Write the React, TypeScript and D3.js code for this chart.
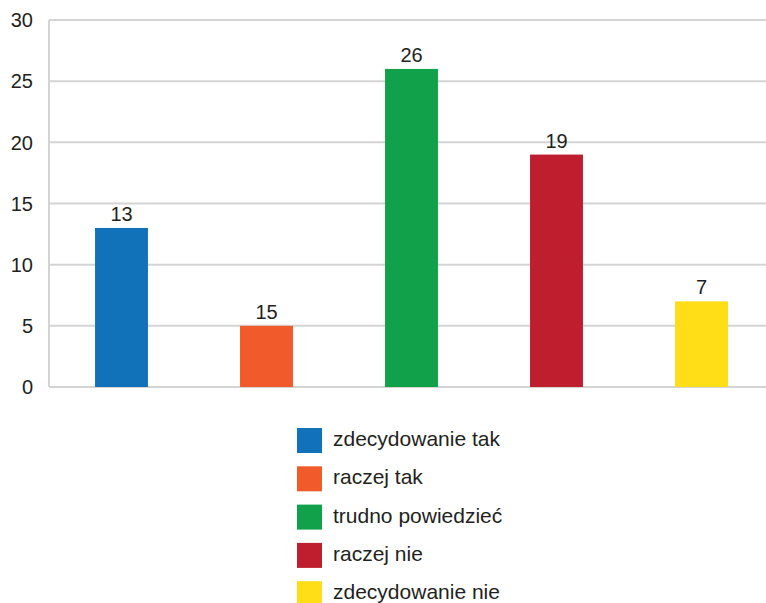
import React from "react";
import * as d3 from "d3";

const categories = ["zdecydowanie tak", "raczej tak", "trudno powiedzieć", "raczej nie", "zdecydowanie nie"];
const values = [13, 5, 26, 19, 7];
const valueLabels = ["13", "15", "26", "19", "7"];
const colors = ["#1172BA", "#F15A2B", "#11A14A", "#BE1E2D", "#FFDD17"];
const yTicks = [0, 5, 10, 15, 20, 25, 30];

const W = 766;
const H = 603;
const left = 49;
const top = 20;
const bottom = 387;

export default function App() {
  const x = d3.scaleBand<string>().domain(categories).range([left, left + 145 * 5]).paddingInner(0.635).paddingOuter(0.3175);
  const y = d3.scaleLinear().domain([0, 30]).range([bottom, top]);
  const font = "'Liberation Sans', Arial, sans-serif";
  return (
    <svg width={W} height={H} style={{ position: "absolute", left: 0, top: 0, background: "#fff" }}>
      {yTicks.map((t) => (
        <g key={t}>
          <line x1={left} x2={W} y1={y(t)} y2={y(t)} stroke="#d4d4d4" strokeWidth={2} />
          <text x={33} y={y(t) + 2} textAnchor="end" dominantBaseline="middle" fontFamily={font} fontSize={20} fill="#231f20">
            {t}
          </text>
        </g>
      ))}
      <line x1={left} x2={left} y1={top} y2={bottom} stroke="#d4d4d4" strokeWidth={2} />
      {categories.map((c, i) => (
        <g key={c}>
          <rect x={x(c)} y={y(values[i])} width={x.bandwidth()} height={y(0) - y(values[i])} fill={colors[i]} />
          <text x={(x(c) as number) + x.bandwidth() / 2} y={y(values[i]) - 7} textAnchor="middle" fontFamily={font} fontSize={20} fill="#231f20">
            {valueLabels[i]}
          </text>
        </g>
      ))}
      {categories.map((c, i) => (
        <g key={"lg" + c} transform={`translate(297, ${428 + i * 38.3})`}>
          <rect x={0} y={0} width={25} height={25} fill={colors[i]} />
          <text x={36} y={12.5} dominantBaseline="middle" fontFamily={font} fontSize={21} fill="#231f20">
            {c}
          </text>
        </g>
      ))}
    </svg>
  );
}
